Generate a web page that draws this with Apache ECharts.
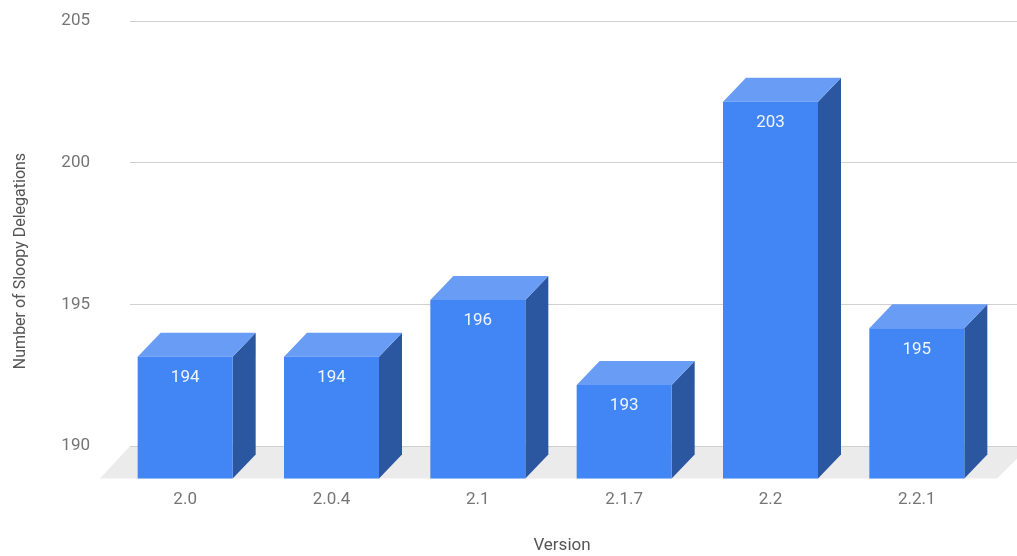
<!DOCTYPE html>
<html>
<head>
<meta charset="utf-8">
<script src="https://cdn.jsdelivr.net/npm/echarts@6/dist/echarts.min.js"></script>
<style>
  html, body { margin: 0; padding: 0; background: #fff; }
  #chart { width: 1017px; height: 556px; }
</style>
</head>
<body>
<div id="chart"></div>
<script>
// Sloopy delegations counted per release
const versions = ['2.0', '2.0.4', '2.1', '2.1.7', '2.2', '2.2.1'];
const delegations = [194, 194, 196, 193, 203, 195];
const yTicks = { min: 190, max: 205, step: 5 };

// 3D box geometry (pixels)
const FACE_W = 95;     // width of the front face
const DEPTH_X = 23;    // horizontal extrusion toward the back wall
const DEPTH_Y = 24;    // vertical extrusion toward the back wall
const FLOOR_FRONT = 32.5; // front edge of the floor below the back-wall baseline

const FONT = 'Roboto, "Noto Sans", sans-serif';
const chart = echarts.init(document.getElementById('chart'));

function renderBox(params, api) {
  const cat = api.value(0);
  const val = api.value(1);
  const back = api.coord([cat, val]);
  const base = api.coord([cat, yTicks.min]);
  const x0 = back[0] - FACE_W / 2;
  const x1 = back[0] + FACE_W / 2;
  const yTop = back[1] + DEPTH_Y;
  const yBot = base[1] + FLOOR_FRONT;
  return {
    type: 'group',
    children: [
      { type: 'polygon', shape: { points: [[x1, yTop], [x1 + DEPTH_X, yTop - DEPTH_Y], [x1 + DEPTH_X, yBot - DEPTH_Y], [x1, yBot]] },
        style: { fill: '#2b57a0' } },
      { type: 'polygon', shape: { points: [[x0, yTop], [x1, yTop], [x1 + DEPTH_X, yTop - DEPTH_Y], [x0 + DEPTH_X, yTop - DEPTH_Y]] },
        style: { fill: '#699cf5' } },
      { type: 'rect', shape: { x: x0, y: yTop, width: FACE_W, height: yBot - yTop },
        style: { fill: '#4285f4' } },
      { type: 'text', x: back[0], y: yTop + 21,
        style: { text: String(val), fill: 'rgba(255,255,255,0.92)', font: '17px ' + FONT, align: 'center', verticalAlign: 'middle' } }
    ]
  };
}

chart.setOption({
  animation: false,
  grid: [
    // back wall carrying the value gridlines
    { left: 130, width: 900, top: 21, height: 425 },
    // category band for the boxes
    { left: 112, width: 878, top: 21, height: 425 }
  ],
  xAxis: [
    { gridIndex: 0, type: 'category', data: versions, show: false },
    { gridIndex: 1, type: 'category', data: versions,
      axisLine: { show: false }, axisTick: { show: false },
      axisLabel: { color: '#757575', fontFamily: FONT, fontSize: 17, margin: 45 } }
  ],
  yAxis: [
    { gridIndex: 0, type: 'value', min: yTicks.min, max: yTicks.max, interval: yTicks.step,
      axisLine: { show: false }, axisTick: { show: false },
      axisLabel: { color: '#757575', fontFamily: FONT, fontSize: 17, margin: 40 },
      splitLine: { lineStyle: { color: '#d0d0d0', width: 1 } } },
    { gridIndex: 1, type: 'value', min: yTicks.min, max: yTicks.max, show: false }
  ],
  graphic: [
    { type: 'polygon', z: -10, silent: true,
      shape: { points: [[130, 446], [1030, 446], [997, 478.5], [100, 478.5]] },
      style: { fill: '#ebebeb' } },
    { type: 'text', x: 21, y: 261, rotation: Math.PI / 2, silent: true,
      style: { text: 'Number of Sloopy Delegations', fill: '#555', font: '16px ' + FONT, align: 'center', verticalAlign: 'middle' } },
    { type: 'text', x: 562, y: 546, silent: true,
      style: { text: 'Version', fill: '#555', font: '17px ' + FONT, align: 'center', verticalAlign: 'middle' } }
  ],
  series: [{
    type: 'custom',
    xAxisIndex: 1, yAxisIndex: 1,
    renderItem: renderBox,
    data: delegations.map((v, i) => [i, v])
  }]
});
</script>
</body>
</html>
